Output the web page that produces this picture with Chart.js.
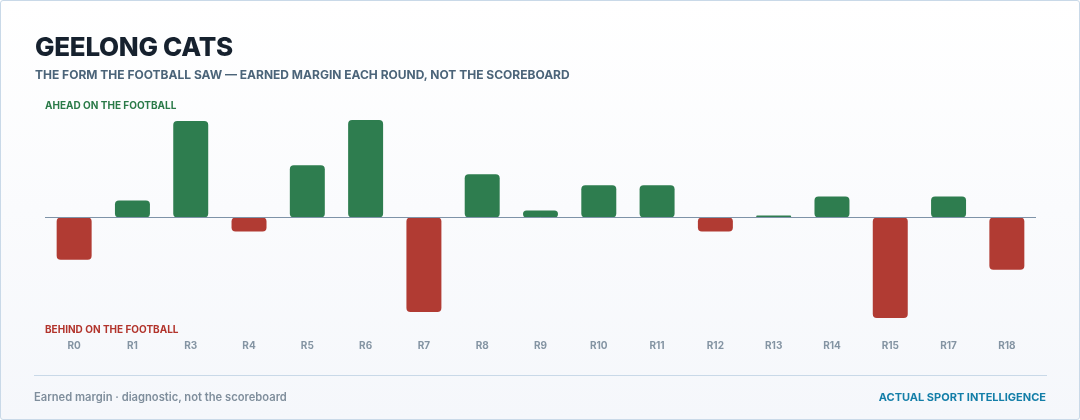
<!DOCTYPE html>
<html>
<head>
<meta charset="utf-8">
<script src="https://cdn.jsdelivr.net/npm/chart.js@4.4.1/dist/chart.umd.min.js"></script>
<style>
  html, body { margin: 0; padding: 0; width: 1080px; height: 420px; overflow: hidden; background: #ffffff; }
  .card {
    position: absolute; left: 0; top: 0; width: 1078px; height: 418px;
    border: 1px solid #c9d9e8; border-radius: 3px;
    background: linear-gradient(180deg, #ffffff 0%, #f5f7fb 100%);
    font-family: Inter, "Noto Sans", sans-serif;
  }
  .title { position: absolute; left: 34px; top: 30px; font-size: 26px; font-weight: 800; color: #16212e; letter-spacing: -0.3px; }
  .subtitle { position: absolute; left: 34px; top: 66px; font-size: 12px; font-weight: 700; color: #4b6479; }
  .ahead { position: absolute; left: 44px; top: 98px; font-size: 10px; font-weight: 700; color: #2a7a48; }
  .behind { position: absolute; left: 44px; top: 322px; font-size: 10px; font-weight: 700; color: #b2342c; }
  .sep { position: absolute; left: 33px; top: 374px; width: 1013px; height: 1px; background: #c9d9e8; }
  .foot-l { position: absolute; left: 33px; top: 389px; font-size: 11.2px; font-weight: 600; color: #7f8e9c; }
  .foot-r { position: absolute; right: 33px; top: 389px; font-size: 11px; font-weight: 700; color: #137ea8; }
  #wrap { position: absolute; left: -1px; top: -1px; width: 1080px; height: 420px; }
</style>
</head>
<body>
<div class="card">
  <div id="wrap"><canvas id="c" width="1080" height="420"></canvas></div>
  <div class="title">GEELONG CATS</div>
  <div class="subtitle">THE FORM THE FOOTBALL SAW — EARNED MARGIN EACH ROUND, NOT THE SCOREBOARD</div>
  <div class="ahead">AHEAD ON THE FOOTBALL</div>
  <div class="behind">BEHIND ON THE FOOTBALL</div>
  <div class="sep"></div>
  <div class="foot-l">Earned margin · diagnostic, not the scoreboard</div>
  <div class="foot-r">ACTUAL SPORT INTELLIGENCE</div>
</div>
<script>
const rounds = ["R0","R1","R3","R4","R5","R6","R7","R8","R9","R10","R11","R12","R13","R14","R15","R17","R18"];
const earnedMargin = [-42, 17, 96, -14, 52, 97, -94, 43, 7, 32, 32, -14, 2, 21, -100, 21, -52];
const axisMin = -114;
const axisMax = 110;

const GREEN = "#2e7d4f";
const RED = "#b13b33";

const zeroLine = {
  id: "zeroLine",
  afterDatasetsDraw(chart) {
    const { ctx, chartArea, scales } = chart;
    const y = Math.round(scales.y.getPixelForValue(0)) + 0.5;
    ctx.save();
    ctx.strokeStyle = "#7e93a8";
    ctx.lineWidth = 1;
    ctx.beginPath();
    ctx.moveTo(chartArea.left, y);
    ctx.lineTo(chartArea.right, y);
    ctx.stroke();
    ctx.restore();
  }
};

new Chart(document.getElementById("c"), {
  type: "bar",
  data: {
    labels: rounds,
    datasets: [{
      data: earnedMargin,
      backgroundColor: earnedMargin.map(v => v >= 0 ? GREEN : RED),
      borderWidth: 0,
      borderRadius: 4,
      borderSkipped: false,
      categoryPercentage: 0.6,
      barPercentage: 1.0
    }]
  },
  options: {
    responsive: false,
    animation: false,
    layout: { padding: { left: 45, right: 44, top: 107, bottom: 60 } },
    plugins: { legend: { display: false }, tooltip: { enabled: false } },
    scales: {
      x: {
        grid: { display: false, drawTicks: false },
        border: { display: false },
        ticks: { color: "#8494a3", font: { family: "Inter", size: 10, weight: "700" }, padding: 8 },
      },
      y: {
        display: false,
        min: axisMin,
        max: axisMax
      }
    }
  },
  plugins: [zeroLine]
});
</script>
</body>
</html>
